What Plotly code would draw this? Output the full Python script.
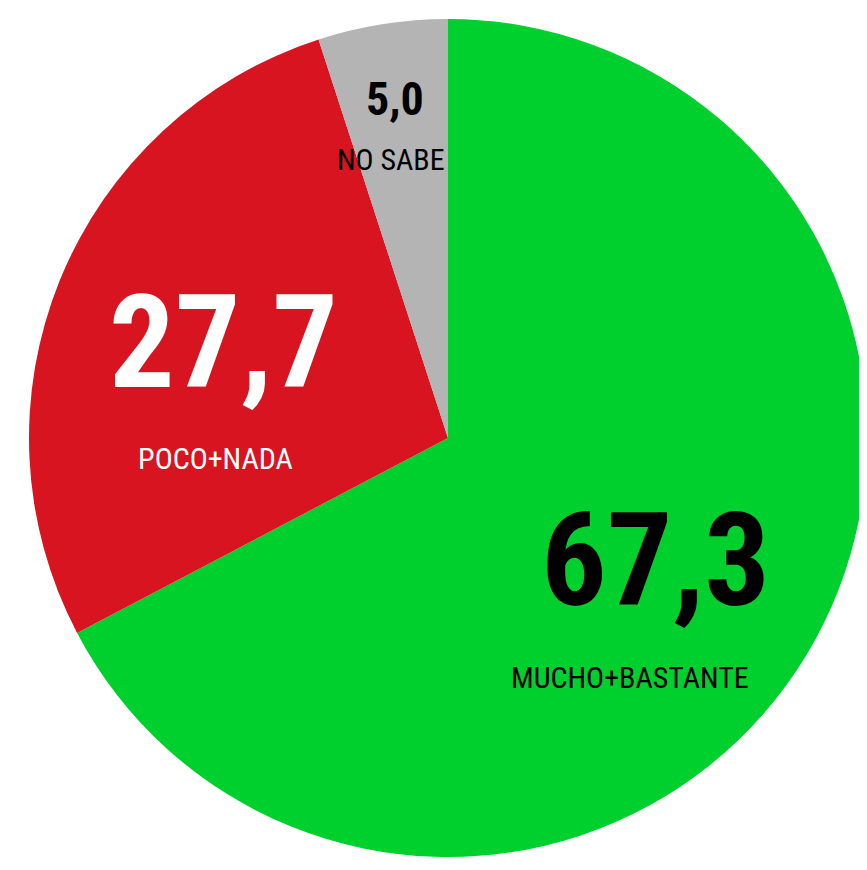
import plotly.graph_objects as go

labels = ["MUCHO+BASTANTE", "POCO+NADA", "NO SABE"]
values = [67.3, 27.7, 5.0]
value_text = ["67,3", "27,7", "5,0"]
colors = ["#00D02E", "#D7141F", "#B4B4B4"]

OFF = 8  # page body margin
W, H = 859, 862
cx, cy, r = 448 - OFF, 438 - OFF, 419

fig = go.Figure(go.Pie(
    labels=labels, values=values, sort=False, direction="clockwise", rotation=0,
    marker=dict(colors=colors, line=dict(width=0)),
    textinfo="none", hoverinfo="label+value", showlegend=False,
    domain=dict(x=[(cx - r) / W, min(1, (cx + r) / W)], y=[(H - cy - r) / H, (H - cy + r) / H]),
))

fam = "Roboto Condensed, Arial Narrow, Liberation Sans Narrow, Roboto, sans-serif"
# (x, y) centres in screen pixels, font size, colour
num_pos = [(655, 560, 130, "black"), (223, 342, 130, "white"), (395, 99, 46, "black")]
lab_pos = [(630, 677, 30, "black"), (215, 458, 30, "white"), (391, 160, 30, "black")]

for i in range(3):
    x, y, s, c = num_pos[i]
    fig.add_annotation(x=(x - OFF) / W, y=1 - (y - OFF) / H, xref="paper", yref="paper",
                       text=value_text[i], showarrow=False, xanchor="center", yanchor="middle",
                       font=dict(family=fam, size=s, color=c, weight=700))
    x, y, s, c = lab_pos[i]
    fig.add_annotation(x=(x - OFF) / W, y=1 - (y - OFF) / H, xref="paper", yref="paper",
                       text=labels[i], showarrow=False, xanchor="center", yanchor="middle",
                       font=dict(family=fam, size=s, color=c, weight=400))

fig.update_layout(width=W, height=H, margin=dict(l=0, r=0, t=0, b=0),
                  paper_bgcolor="white", plot_bgcolor="white")
fig.write_html("out.html")
